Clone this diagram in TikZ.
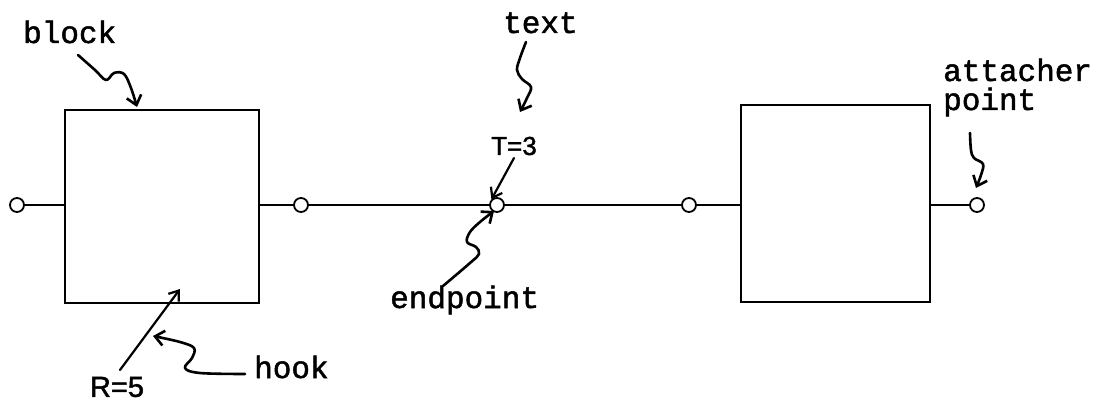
\documentclass[tikz,border=0pt]{standalone}
\usepackage{fontspec}
\newfontfamily\tw[FakeBold=1.6]{Liberation Mono}
\newfontfamily\hw[FakeBold=1.5]{Liberation Sans}
\usetikzlibrary{arrows.meta}
\tikzset{
  blk/.style={draw, line width=2.6pt, inner sep=0pt},
  pin/.style={circle, draw, fill=white, line width=1.8pt, minimum size=14pt, inner sep=0pt},
  wire/.style={line width=2.4pt},
  lbl/.style={anchor=base west, inner sep=0pt, font=\tw\fontsize{31}{31}\selectfont},
  hand/.style={anchor=center, inner sep=0pt},
  sq/.style={line width=2.6pt, line cap=round, line join=round, -{Straight Barb[length=9pt,width=15pt,line width=2.6pt]}},
  st/.style={line width=2.2pt, line cap=round, -{Straight Barb[length=9pt,width=13pt,line width=2.2pt]}}
}
\begin{document}
\begin{tikzpicture}[x=1pt,y=-1pt]
\useasboundingbox (0,0) rectangle (1112,404);
% blocks
\node[blk, minimum width=194pt, minimum height=193pt] (b1) at (162,206.5) {};
\node[blk, minimum width=189pt, minimum height=197pt] (b2) at (835.5,203.5) {};
% pins
\node[pin] (c1) at (17,205) {};
\node[pin] (c2) at (301,205) {};
\node[pin] (c3) at (497,205) {};
\node[pin] (c4) at (689,205) {};
\node[pin] (c5) at (977,205) {};
% wires
\draw[wire] (c1.east) -- (c1 -| b1.west);
\draw[wire] (c2 -| b1.east) -- (c2.west);
\draw[wire] (c2.east) -- (c3.west);
\draw[wire] (c3.east) -- (c4.west);
\draw[wire] (c4.east) -- (c4 -| b2.west);
\draw[wire] (c5 -| b2.east) -- (c5.west);
% labels
\node[lbl] (lblock) at (23,43) {block};
\node[lbl] (ltext) at (503,33) {text};
\node[lbl] (lend) at (390,308) {endpoint};
\node[lbl] (lhook) at (254,378) {hook};
\node[lbl] (latt) at (943,81) {attacher};
\node[lbl] (lpt) at (943,110) {point};
\node[hand, font=\hw\fontsize{26}{26}\selectfont] (lT) at (514,146) {T=3};
\node[hand, font=\hw\fontsize{29}{29}\selectfont] (lR) at (117,387) {R=5};
% squiggle pointers
\draw[sq] plot[smooth, tension=0.6] coordinates {(78,55) (95,70) (106,80) (114,73) (124,74) (131,88) (137,107)};
\draw[sq] plot[smooth, tension=0.6] coordinates {(526,42) (520,58) (517,70) (522,79) (531,87) (527,98) (520,112)};
\draw[sq] plot[smooth, tension=0.6] coordinates {(443,286) (470,263) (479,254) (476,247) (467,242) (470,232) (480,222) (494,211)};
\draw[sq] plot[smooth, tension=0.6] coordinates {(245,374) (200,373) (185,368) (192,358) (194,348) (180,342) (153,336)};
\draw[sq] plot[smooth, tension=0.6] coordinates {(970,133) (971,150) (974,158) (983,164) (981,175) (976,188)};
% straight pointers
\coordinate (tT) at (514,158);
\coordinate (tR) at (120,370);
\draw[st] (tT) -- (c3.north west);
\draw[st] (tR) -- (180,289);
\end{tikzpicture}
\end{document}
